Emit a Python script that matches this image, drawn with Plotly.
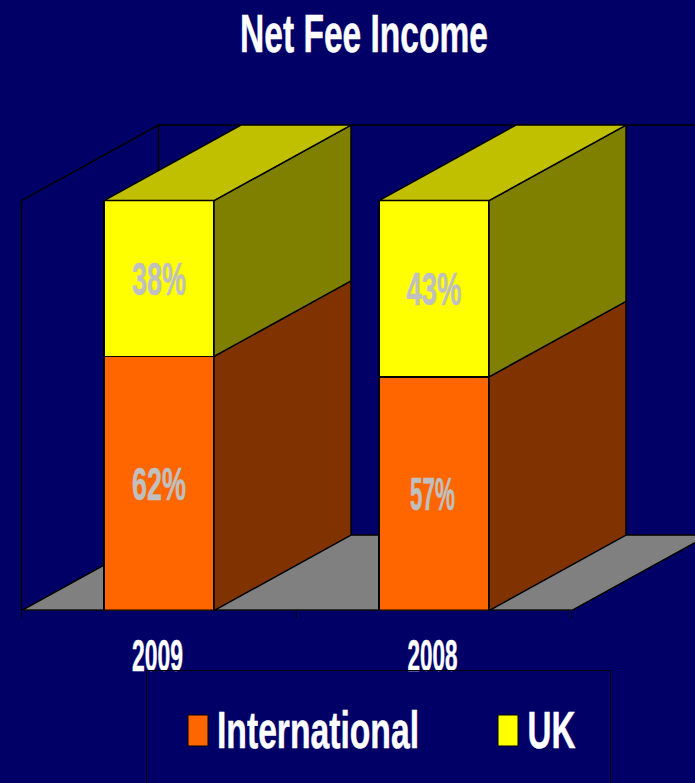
import plotly.graph_objects as go
import json

categories = ["2009", "2008"]
series_names = ["International", "UK"]
international = [62, 57]
uk = [38, 43]

BG = "#000066"
FONT = "Liberation Sans"
W, H = 695, 783
PX_PER_X = 275.0
PX_PER_Y = 4.1
X0_PX = 159.0
Y0_PX = 610.6
DX = 137 / PX_PER_X
DY = 75.5 / PX_PER_Y
BAR = 110 / PX_PER_X
XMIN = -X0_PX / PX_PER_X
XMAX = (W - X0_PX) / PX_PER_X
YMAX = Y0_PX / PX_PER_Y
xs = list(range(len(categories)))
AX_L, AX_R = -0.5, 1.5
TOP = 100.0

fig = go.Figure()
BL = dict(color="black", width=1.5)
PCT = dict(family=FONT, size=46, color="#C0C0C0", weight="bold")

fig.add_bar(x=xs, y=international, name=series_names[0], width=BAR, showlegend=False,
            marker=dict(color="#FF6600", line=BL), text=[f"{v}%" for v in international],
            textposition="inside", insidetextanchor="middle", textangle=0,
            textfont=PCT, hoverinfo="skip")
fig.add_bar(x=xs, y=uk, name=series_names[1], width=BAR, showlegend=False,
            marker=dict(color="#FFFF00", line=BL), text=[f"{v}%" for v in uk],
            textposition="inside", insidetextanchor="middle", textangle=0,
            textfont=PCT, hoverinfo="skip")


def poly(px_, py_, fill):
    fig.add_scatter(x=px_, y=py_, mode="lines", fill="toself", fillcolor=fill,
                    line=dict(color="black", width=1.5), showlegend=False, hoverinfo="skip")


for i, x in enumerate(xs):
    r = x + BAR / 2
    l = x - BAR / 2
    a, t = international[i], international[i] + uk[i]
    poly([r, r + DX, r + DX, r, r], [0, DY, a + DY, a, 0], "#803300")
    poly([r, r + DX, r + DX, r, r], [a, a + DY, t + DY, t, a], "#808000")
    poly([l, r, r + DX, l + DX, l], [t, t, t + DY, t + DY, t], "#C0C000")

fig.add_scatter(x=[AX_L, AX_R], y=[0, 0], mode="lines", line=dict(color="black", width=2),
                cliponaxis=False, showlegend=False, hoverinfo="skip")

shapes = [
    dict(type="path", layer="below", xref="x", yref="y", fillcolor="#808080",
         line=dict(color="black", width=1.5),
         path=f"M{AX_L},0 L{AX_R},0 L{AX_R+DX},{DY} L{AX_L+DX},{DY} Z"),
    dict(type="path", layer="below", xref="x", yref="y", line=dict(color="black", width=1.5),
         path=f"M{AX_L},0 L{AX_L},{TOP} L{AX_L+DX},{TOP+DY} L{AX_L+DX},{DY}"),
    dict(type="line", layer="below", xref="x", yref="y", line=dict(color="black", width=1.5),
         x0=AX_L + DX, x1=XMAX, y0=TOP + DY, y1=TOP + DY),
]


def px(x):
    return x / W


def py(y):
    return 1 - y / H


shapes.append(dict(type="path", xref="paper", yref="paper", line=dict(color="black", width=1),
                   path=f"M{px(146.5)},{py(790)} L{px(146.5)},{py(670.5)} L{px(610.5)},{py(670.5)} L{px(610.5)},{py(790)}"))
shapes.append(dict(type="rect", xref="paper", yref="paper", x0=px(188), x1=px(208), y0=py(715), y1=py(746),
                   fillcolor="#FF6600", line=dict(color="black", width=1)))
shapes.append(dict(type="rect", xref="paper", yref="paper", x0=px(498), x1=px(518), y0=py(715), y1=py(746),
                   fillcolor="#FFFF00", line=dict(color="black", width=1)))

annotations = [
    dict(text=series_names[0], x=px(318), y=py(730), xref="paper", yref="paper", xanchor="center",
         yanchor="middle", showarrow=False, font=dict(family=FONT, size=52, color="white", weight="bold")),
    dict(text=series_names[1], x=px(552), y=py(730), xref="paper", yref="paper", xanchor="center",
         yanchor="middle", showarrow=False, font=dict(family=FONT, size=52, color="white", weight="bold")),
]

fig.update_layout(
    width=W, height=H, margin=dict(l=0, r=0, t=0, b=0), autosize=False,
    paper_bgcolor=BG, plot_bgcolor=BG, barmode="stack", showlegend=False,
    title=dict(text="Net Fee Income", x=364 / W, xanchor="center", y=1 - 33 / H, yanchor="middle",
               font=dict(family=FONT, size=53, color="white", weight="bold")),
    xaxis=dict(range=[XMIN, XMAX], tickmode="array", tickvals=xs, ticktext=categories, ticks="",
               showgrid=False, zeroline=False, showline=False, ticklabelstandoff=15,
               tickfont=dict(family=FONT, size=44, color="white", weight="bold"),
               minor=dict(tickmode="array", tickvals=[-0.5, 0.5, 1.5], ticks="outside", ticklen=6,
                          tickcolor="black", tickwidth=1, showgrid=False)),
    yaxis=dict(range=[0, YMAX], domain=[1 - Y0_PX / H, 1], visible=False),
    shapes=shapes, annotations=annotations,
)

# The reference's lettering is a condensed face: squeeze the real text to the same run widths.
text_widths = {"Net Fee Income": 248, "2009": 51, "2008": 50, "38%": 54, "43%": 55, "62%": 54, "57%": 45,
               "International": 202, "UK": 48}
text_nudge = {"2009": -1.5, "2008": -1.5, "57%": -1.5}
post = """
document.body.style.margin = '0';
document.documentElement.style.overflow = 'hidden';
var widths = %s, nudge = %s;
document.querySelectorAll('svg text').forEach(function (t) {
  var key = t.textContent.trim(), w = widths[key];
  if (w) {
    t.setAttribute('textLength', w);
    t.setAttribute('lengthAdjust', 'spacingAndGlyphs');
    t.style.stroke = t.style.fill;
    t.style.strokeWidth = '0.5px';
  }
  if (nudge[key]) { t.setAttribute('dx', nudge[key]); }
});
""" % (json.dumps(text_widths), json.dumps(text_nudge))

fig.write_html("out.html", config={"displayModeBar": False}, post_script=post)
